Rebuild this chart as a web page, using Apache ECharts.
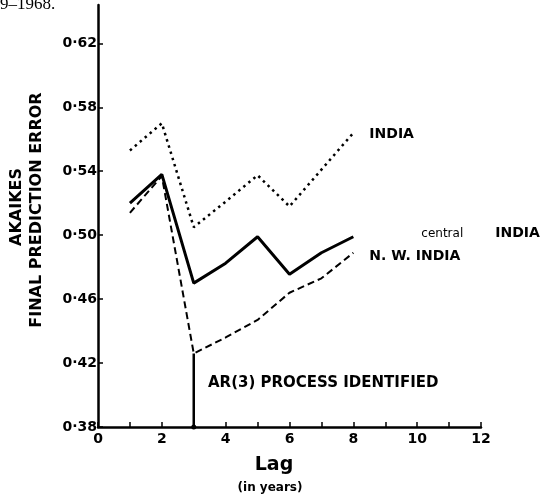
<!DOCTYPE html>
<html><head><meta charset="utf-8">
<script src="https://cdn.jsdelivr.net/npm/echarts@6/dist/echarts.min.js"></script>
<style>html,body{margin:0;padding:0;background:#fff}#c{width:544px;height:500px}</style>
</head><body><div id="c"></div>
<script>
const lags = [1, 2, 3, 4, 5, 6, 7, 8];
const india = [0.553, 0.570, 0.505, 0.521, 0.5375, 0.518, 0.541, 0.564];
const centralIndia = [0.520, 0.538, 0.470, 0.4825, 0.499, 0.4756, 0.489, 0.499];
const nwIndia = [0.514, 0.537, 0.426, 0.436, 0.447, 0.464, 0.473, 0.489];
const arMarker = [[3, 0.426], [3, 0.38]];
const yTicks = [0.38, 0.42, 0.46, 0.50, 0.54, 0.58, 0.62];
const xTickLabels = [0, 2, 4, 6, 8, 10, 12];
const xTicks = [0,1,2,3,4,5,6,7,8,9,10,11,12];

const pair = (xs, ys) => xs.map((x, i) => [x, ys[i]]);
const boldFont = 'DejaVu Sans';
const chart = echarts.init(document.getElementById('c'), null, {renderer: 'canvas'});
chart.setOption({
  animation: false,
  backgroundColor: '#fff',
  grid: {left: 98, right: 63, top: 5, bottom: 73, containLabel: false},
  xAxis: {
    type: 'value', min: 0, max: 12,
    axisLine: {lineStyle: {color: '#000', width: 2.5}},
    axisTick: {inside: true, length: 5, lineStyle: {color: '#000', width: 1.5}, customValues: xTicks},
    axisLabel: {customValues: xTickLabels, color: '#000', fontFamily: boldFont, fontWeight: 'bold', fontSize: 14, margin: 5},
    splitLine: {show: false}
  },
  yAxis: {
    type: 'value', min: 0.38, max: 0.644,
    axisLine: {lineStyle: {color: '#000', width: 2.5}},
    axisTick: {inside: true, length: 5, lineStyle: {color: '#000', width: 1.5}, customValues: yTicks},
    axisLabel: {customValues: yTicks, color: '#000', fontFamily: boldFont, fontWeight: 'bold', fontSize: 14, margin: 1,
      formatter: v => v.toFixed(2).replace('.', '·')},
    splitLine: {show: false}
  },
  series: [
    {type: 'line', name: 'INDIA', data: pair(lags, india), symbol: 'none',
      lineStyle: {color: '#000', width: 2.5, type: [2.5, 4]},
      endLabel: {show: true, formatter: 'INDIA', color: '#000', fontFamily: boldFont, fontWeight: 'bold', fontSize: 14, distance: 16, offset: [0, 1]}},
    {type: 'line', name: 'central INDIA', data: pair(lags, centralIndia), symbol: 'none',
      lineStyle: {color: '#000', width: 3},
      endLabel: {show: true, formatter: '{a|central}{b|INDIA}', offset: [60, -3],
        rich: {a: {fontFamily: 'DejaVu Sans', fontSize: 12, color: '#000'},
               b: {fontFamily: boldFont, fontWeight: 'bold', fontSize: 14, color: '#000', padding: [0, 0, 0, 32]}}}},
    {type: 'line', name: 'N.W. INDIA', data: pair(lags, nwIndia), symbol: 'none',
      lineStyle: {color: '#000', width: 2, type: [7, 4]},
      endLabel: {show: true, formatter: 'N. W. INDIA', offset: [0, 4], color: '#000', fontFamily: boldFont, fontWeight: 'bold', fontSize: 14, distance: 16}},
    {type: 'line', name: 'AR3', data: arMarker, symbol: (v, p) => p.dataIndex === 1 ? 'circle' : 'none', symbolSize: 5,
      itemStyle: {color: '#000'}, lineStyle: {color: '#000', width: 2.5}}
  ],
  graphic: [
    {type: 'text', left: 0, top: -4, style: {text: '9–1968.', font: '17px "Liberation Serif"', fill: '#000'}},
    {type: 'text', x: 208, y: 383, style: {text: 'AR(3) PROCESS IDENTIFIED', font: 'bold 15px "DejaVu Sans"', fill: '#000', verticalAlign: 'middle'}},
    {type: 'text', x: 274, y: 465, style: {text: 'Lag', font: 'bold 19px "DejaVu Sans"', fill: '#000', align: 'center', verticalAlign: 'middle'}},
    {type: 'text', x: 270, y: 488, style: {text: '(in years)', font: 'bold 12px "DejaVu Sans"', fill: '#000', align: 'center', verticalAlign: 'middle'}},
    {type: 'text', x: 17, y: 207, rotation: Math.PI / 2, style: {text: 'AKAIKES', font: 'bold 16px "DejaVu Sans"', fill: '#000', align: 'center', verticalAlign: 'middle'}},
    {type: 'text', x: 37, y: 210, rotation: Math.PI / 2, style: {text: 'FINAL PREDICTION ERROR', font: 'bold 16px "DejaVu Sans"', fill: '#000', align: 'center', verticalAlign: 'middle'}}
  ]
});
</script></body></html>
